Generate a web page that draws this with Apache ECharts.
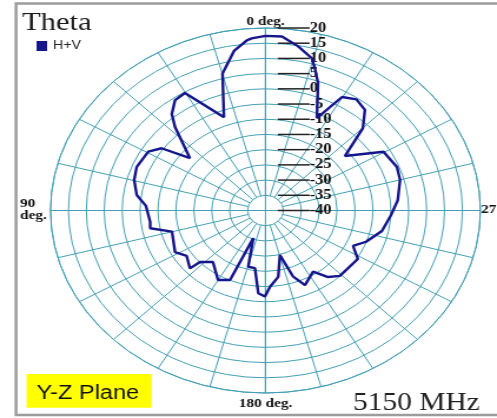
<!DOCTYPE html>
<html>
<head>
<meta charset="utf-8">
<script src="https://cdn.jsdelivr.net/npm/echarts@6/dist/echarts.min.js"></script>
<style>
  html, body { margin: 0; padding: 0; background: #fff; overflow: hidden; }
  /* the source picture is stretched sideways, so the circular polar becomes an ellipse */
  #main { width: 422px; height: 418px; transform: scaleX(1.1777); transform-origin: 0 0; }
</style>
</head>
<body>
<div id="main"></div>
<script>
// angle (deg, counter-clockwise from top) and gain (dB)
var angleDeg = [0, 3.9, 5.3, 9.5, 14.9, 20.7, 30.2, 34.8, 39.5, 42.6,
  50.8, 54.8, 59.4, 68.2, 74.7, 81.9, 87.4, 96.7, 100.3, 104.9,
  118.4, 124.2, 132.1, 132.8, 139.1, 149.9, 156.6, 159.5, 165.4, 171.2,
  175.8, 179.7, 182.9, 189.3, 195.4, 199.6, 204.2, 213.5, 218.6, 224.0,
  238.3, 244.5, 249.9, 258.3, 267.6, 275.3, 285.0, 291.3, 300.4, 308.9,
  314.9, 320.0, 325.2, 330.2, 334.7, 340.7, 343.6, 345.5, 350.5, 355.4, 360];
var gainDb = [17.4, 16.7, 16.2, 13.2, 6.6, -7.2, 4.7, 4.2, 1.1, -2.7,
  -12.8, -4.5, -2.0, -1.3, -2.0, -3.7, -6.6, -7.6, -7.3, -13.0,
  -11.3, -13.4, -11.6, -15.1, -17.6, -13.6, -15.1, -30.3, -20.9, -20.8,
  -12.7, -11.7, -14.9, -17.9, -24.8, -16.9, -13.1, -15.9, -12.0, -10.1,
  -9.7, -12.9, -10.1, -6.8, -4.9, -2.9, -1.1, -0.6, -1.8, -11.5,
  -1.6, 3.2, 4.5, 3.0, -6.4, 4.4, 8.8, 11.7, 14.8, 17.4, 17.4];
var seriesName = 'H+V';
var radiusMin = -40, radiusMax = 20, radiusStep = 5;

var gridColor = '#45a0b5';
var serif = '"Liberation Serif", "Times New Roman", serif';
var sans = '"Liberation Sans", Arial, sans-serif';
var cx = 225.4, cy = 210.5, R = 182.5;

var chart = echarts.init(document.getElementById('main'));
chart.setOption({
  animation: false,
  backgroundColor: '#fff',
  legend: {
    data: [seriesName],
    left: 26, top: 35,
    icon: 'rect', itemWidth: 9, itemHeight: 10, itemGap: 6,
    textStyle: { fontFamily: sans, fontSize: 12, color: '#222' }
  },
  polar: [
    { center: [cx, cy], radius: [0, R] },
    { center: [cx, cy], radius: [R / 12, R] }
  ],
  angleAxis: [
    {
      polarIndex: 0, type: 'value', min: 0, max: 360, interval: 90,
      startAngle: 90, clockwise: false,
      axisLine: { show: true, lineStyle: { color: gridColor, width: 1 } },
      axisTick: { show: false }, axisLabel: { show: false },
      splitLine: { show: true, lineStyle: { color: gridColor, width: 1 } }
    },
    {
      polarIndex: 1, type: 'value', min: 0, max: 360, interval: 15,
      startAngle: 90, clockwise: false,
      axisLine: { show: false }, axisTick: { show: false }, axisLabel: { show: false },
      splitLine: { show: true, lineStyle: { color: gridColor, width: 1 } }
    }
  ],
  radiusAxis: [
    {
      polarIndex: 0, type: 'value', min: radiusMin, max: radiusMax, interval: radiusStep,
      axisLine: { show: false }, axisTick: { show: false },
      splitLine: { show: true, lineStyle: { color: gridColor, width: 1 } },
      axisLabel: {
        margin: -10.5, align: 'left', verticalAlign: 'middle',
        formatter: function (v) { return '{ln|}{t|' + v + '}'; },
        rich: {
          ln: { width: 27, height: 1.5, backgroundColor: '#222' },
          t: { fontFamily: serif, fontWeight: 'bold', fontSize: 14, color: '#111' }
        }
      }
    },
    { polarIndex: 1, type: 'value', min: radiusMin, max: radiusMax, show: false }
  ],
  series: [{
    name: seriesName,
    type: 'line',
    coordinateSystem: 'polar',
    polarIndex: 0,
    symbol: 'none',
    color: '#15158c',
    lineStyle: { width: 2.4, color: '#15158c' },
    data: angleDeg.map(function (a, i) { return [gainDb[i], a]; }),
    z: 5
  }],
  graphic: [
    { type: 'rect', shape: { x: 13.6, y: 3.5, width: 430, height: 411.5 },
      style: { fill: 'none', stroke: '#9c9c9c', lineWidth: 2.5 }, z: 10 },
    { type: 'text', x: 18.7, y: 22.9,
      style: { text: 'Theta', font: '26px ' + serif, fill: '#1a1a1a', verticalAlign: 'middle' } },
    { type: 'text', x: cx, y: 21.3,
      style: { text: '0 deg.', font: 'bold 13px ' + serif, fill: '#111', align: 'center', verticalAlign: 'middle' } },
    { type: 'text', x: 17, y: 203.6,
      style: { text: '90', font: 'bold 13px ' + serif, fill: '#111', verticalAlign: 'middle' } },
    { type: 'text', x: 17, y: 215.6,
      style: { text: 'deg.', font: 'bold 13px ' + serif, fill: '#111', verticalAlign: 'middle' } },
    { type: 'text', x: 408.5, y: 210,
      style: { text: '270', font: 'bold 13px ' + serif, fill: '#111', verticalAlign: 'middle' } },
    { type: 'text', x: cx, y: 404,
      style: { text: '180 deg.', font: 'bold 13px ' + serif, fill: '#111', align: 'center', verticalAlign: 'middle' } },
    { type: 'text', x: 299.7, y: 403.2,
      style: { text: '5150 MHz', font: '25px ' + serif, fill: '#222', verticalAlign: 'middle' } },
    { type: 'rect', shape: { x: 22.6, y: 374, width: 106.2, height: 33.7 },
      style: { fill: '#ffff00' } },
    { type: 'text', x: 31.1, y: 393.1,
      style: { text: 'Y-Z Plane', font: '20px ' + sans, fill: '#111', verticalAlign: 'middle' } }
  ]
});
</script>
</body>
</html>
